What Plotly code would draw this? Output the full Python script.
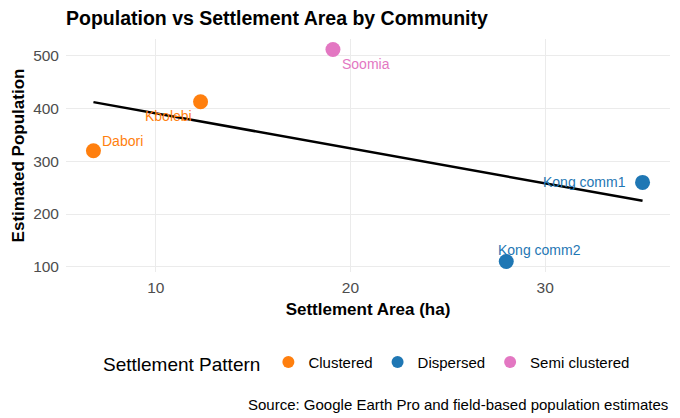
import numpy as np
import plotly.graph_objects as go

# data
communities = ["Dabori", "Kbolebi", "Soomia", "Kong comm1", "Kong comm2"]
area_ha = [6.8, 12.3, 19.1, 35.0, 28.0]
population = [320, 413, 512, 260, 110]
pattern = ["Clustered", "Clustered", "Semi clustered", "Dispersed", "Dispersed"]

pattern_order = ["Clustered", "Dispersed", "Semi clustered"]
colors = {"Clustered": "#ff7f0e", "Dispersed": "#1f77b4", "Semi clustered": "#e377c2"}

# label placement (xanchor, xshift, yshift) like ggrepel did it
label_pos = {
    "Dabori": ("left", 7, 10),
    "Kbolebi": ("right", -7, -14),
    "Soomia": ("left", 7, -14),
    "Kong comm1": ("right", -15, 0),
    "Kong comm2": ("left", -10, 11),
}

FONT = "Liberation Sans, Arial, sans-serif"

fig = go.Figure()

# linear fit (geom_smooth method = lm)
slope, intercept = np.polyfit(area_ha, population, 1)
x_fit = np.linspace(min(area_ha), max(area_ha), 50)
fig.add_trace(go.Scatter(x=x_fit, y=slope * x_fit + intercept, mode="lines",
                         line=dict(color="black", width=2.5), showlegend=False,
                         hoverinfo="skip"))

for p in pattern_order:
    idx = [i for i, v in enumerate(pattern) if v == p]
    fig.add_trace(go.Scatter(
        x=[area_ha[i] for i in idx], y=[population[i] for i in idx],
        mode="markers", name=p,
        text=[communities[i] for i in idx],
        marker=dict(color=colors[p], size=15),
    ))

for name, x, y, p in zip(communities, area_ha, population, pattern):
    anchor, dx, dy = label_pos[name]
    fig.add_annotation(x=x, y=y, text=name, showarrow=False, xanchor=anchor,
                       yanchor="middle", xshift=dx, yshift=dy,
                       font=dict(family=FONT, size=14, color=colors[p]))

fig.add_annotation(xref="paper", yref="paper", x=1, y=-0.57, xanchor="right",
                   yanchor="middle", showarrow=False,
                   text="Source: Google Earth Pro and field-based population estimates",
                   font=dict(family=FONT, size=15, color="black"))

axis_style = dict(showgrid=True, gridcolor="#ebebeb", gridwidth=1, zeroline=False,
                  showline=False, ticks="", automargin=False,
                  tickfont=dict(family=FONT, size=15.5, color="#4d4d4d"))

# the page body has an 8px margin, so the figure is 8px smaller than the window
fig.update_layout(
    width=672, height=410,
    margin=dict(l=58, r=10, t=31, b=146),
    plot_bgcolor="white", paper_bgcolor="white",
    title=dict(text="<b>Population vs Settlement Area by Community</b>",
               x=58 / 672, xanchor="left", y=1 - 10 / 410, yanchor="middle",
               font=dict(family=FONT, size=19.5, color="black")),
    xaxis=dict(axis_style, range=[5.39, 36.41], tickvals=[10, 20, 30],
               ticklabelstandoff=4,
               title=dict(text="<b>Settlement Area (ha)</b>", standoff=8,
                          font=dict(family=FONT, size=17, color="black"))),
    yaxis=dict(axis_style, range=[90, 532], tickvals=[100, 200, 300, 400, 500],
               ticklabelstandoff=6,
               title=dict(text="<b>Estimated Population</b>", standoff=4,
                          font=dict(family=FONT, size=17, color="black"))),
    legend=dict(orientation="h", x=0.5, xanchor="center", y=-0.392, yanchor="middle",
                title=dict(text="Settlement Pattern", side="left",
                           font=dict(family=FONT, size=19, color="black")),
                font=dict(family=FONT, size=15, color="black"),
                itemsizing="constant"),
    showlegend=True,
)

fig.write_html("out.html")
